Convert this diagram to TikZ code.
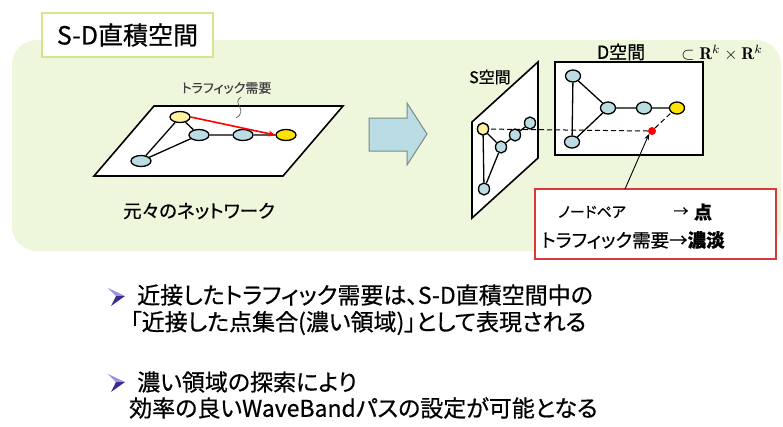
\documentclass[tikz,border=0pt]{standalone}
\usepackage{graphicx}
\usepackage{fontspec}
\newfontfamily\jp[RawFeature=+palt, FakeBold=0.6]{Noto Sans CJK JP}
\usetikzlibrary{shapes.geometric,arrows.meta}
\definecolor{panel}{HTML}{EEF6DC}
\definecolor{titleborder}{HTML}{D2E68C}
\definecolor{nblue}{HTML}{BCDCE4}
\definecolor{nyel}{HTML}{FFF2A0}
\definecolor{nyel2}{HTML}{FFE400}
\definecolor{arrowfill}{HTML}{B9DCE5}
\definecolor{arrowedge}{HTML}{7F8A80}
\definecolor{boxred}{HTML}{D83A3A}
\definecolor{bdark}{HTML}{3B2C8E}
\definecolor{blight}{HTML}{9A94D8}
\tikzset{
  fs/.style={font=\jp\fontsize{#1}{#1}\selectfont},
  txt/.style={inner sep=0pt, text=black},
  plane/.style={draw=black, line width=1.6pt, fill=white, line join=miter},
  nd/.style={ellipse, draw=black, line width=1.3pt, fill=nblue, inner sep=0pt},
  lnd/.style={nd, minimum width=20pt, minimum height=11pt},
  snd/.style={nd, minimum width=11pt, minimum height=12pt},
  dnd/.style={nd, minimum width=15pt, minimum height=12pt},
  edge/.style={line width=1.3pt, draw=black},
  dashline/.style={line width=1pt, dash pattern=on 5pt off 3pt},
  bul/.pic={
    \fill[blight] (-9,-8) -- (8,0) -- (-1,0) -- cycle;
    \fill[bdark] (-1,0) -- (8,0) -- (-6,10) -- cycle;
  }
}
\begin{document}
\begin{tikzpicture}[x=1pt,y=-1pt]
\useasboundingbox (0,0) rectangle (783,426);
\fill[white] (0,0) rectangle (783,426);
% panel
\fill[panel, rounded corners=25pt] (12,40) rectangle (781,251);
% title
\node[draw=titleborder, line width=2pt, fill=white, minimum width=171pt, minimum height=44pt, inner sep=0pt, fs=25] (title) at (127.5,35) {S-D直積空間};

% left plane
\draw[plane] (154,106) -- (343,106) -- (283,176) -- (94,176) -- cycle;
\node[lnd, fill=nyel] (la) at (180,117) {};
\node[lnd] (lb) at (199,135) {};
\node[lnd] (lc) at (243,135) {};
\node[lnd, fill=nyel2] (ld) at (286,135) {};
\node[lnd] (le) at (141,161) {};
\draw[edge] (la) -- (lb) (lb) -- (lc) (lc) -- (ld) (la) -- (le) (le) -- (lb);
\draw[red, line width=1.6pt, -{Stealth[length=7pt,width=6pt]}] (la.east) -- (ld.west);
\node[txt, fs=13, text=black!75] (tlab) at (226.5,88) {トラフィック需要};
\coordinate (sq1) at (241,97);
\coordinate (sq2) at (236,118);
\draw[line width=0.6pt, black!70] (sq1) .. controls (231,103) and (249,110) .. (sq2);
\node[txt, fs=18.5] (orig) at (199,211) {元々のネットワーク};

% big arrow
\draw[arrowedge, fill=arrowfill, line width=1pt, line join=miter]
  (369,118) -- (407,118) -- (407,103) -- (427,134) -- (407,165) -- (407,151) -- (369,151) -- cycle;

% S plane
\draw[plane] (472,122) -- (538,62) -- (538,158) -- (472,218) -- cycle;
\node[txt, fs=16] (slab) at (490,77) {S空間};
% D rect
\draw[plane] (555,62) rectangle (703,155);
\node[txt, fs=18] (dlab) at (621,52) {D空間};
\node[txt] (rk) at (722,53) {\scalebox{1.7}{$\subset\mathbf{R}^k\times\mathbf{R}^k$}};

% red dot and dashed
\node[circle, fill=red, inner sep=0pt, minimum size=8pt] (rdot) at (652,131) {};
\node[snd, fill=nyel] (sy) at (483,129) {};
\node[dnd, fill=nyel2] (dy) at (677,108) {};
\draw[dashline] (sy.center) -- (rdot.west);
\draw[dashline] (rdot.north east) -- (dy.south west);

% S nodes
\node[snd] (s1) at (501,147) {};
\node[snd] (s2) at (515,135) {};
\node[snd] (s3) at (530,123) {};
\node[snd] (s4) at (484,189) {};
\draw[edge] (sy) -- (s1) (s1) -- (s2) (s2) -- (s3) (sy) -- (s4) (s4) -- (s1);
\node[snd, fill=nyel] (syb) at (483,129) {};

% D nodes
\node[dnd] (d1) at (573,76) {};
\node[dnd] (d2) at (608,108) {};
\node[dnd] (d3) at (644,108) {};
\node[dnd] (d4) at (572,142) {};
\draw[edge] (d1) -- (d2) (d2) -- (d3) (d3) -- (dy) (d1) -- (d4) (d4) -- (d2);

% red box
\node[draw=boxred, line width=1.5pt, fill=white, minimum width=241pt, minimum height=70pt, inner sep=0pt] (rbox) at (655.5,224) {};
\node[txt, fs=15] (np) at (592,212) {ノードペア};
\node[txt, fs=15] (ar1) at (681,212) {→};
\node[txt, font=\jp\bfseries\fontsize{18}{18}\selectfont] (pt) at (703,212) {点};
\node[txt, fs=18.5] (l2) at (633,240) {トラフィック需要→\textbf{濃淡}};
\coordinate (rbt) at (625,189);
\draw[line width=0.9pt, -{Stealth[length=6pt,width=5pt]}] (rbt) -- (rdot.south west);

% bullets
\pic at (117,296) {bul};
\pic at (117,382) {bul};
\node[txt, fs=23, anchor=west] (b1a) at (137,295) {近接したトラフィック需要は、S-D直積空間中の};
\node[txt, fs=23, anchor=west] (b1b) at (130,323) {「近接した点集合(濃い領域)」として表現される};
\node[txt, fs=23, anchor=west] (b2a) at (137,382) {濃い領域の探索により};
\node[txt, fs=23, anchor=west] (b2b) at (129,408) {効率の良いWaveBandパスの設定が可能となる};
\end{tikzpicture}
\end{document}
